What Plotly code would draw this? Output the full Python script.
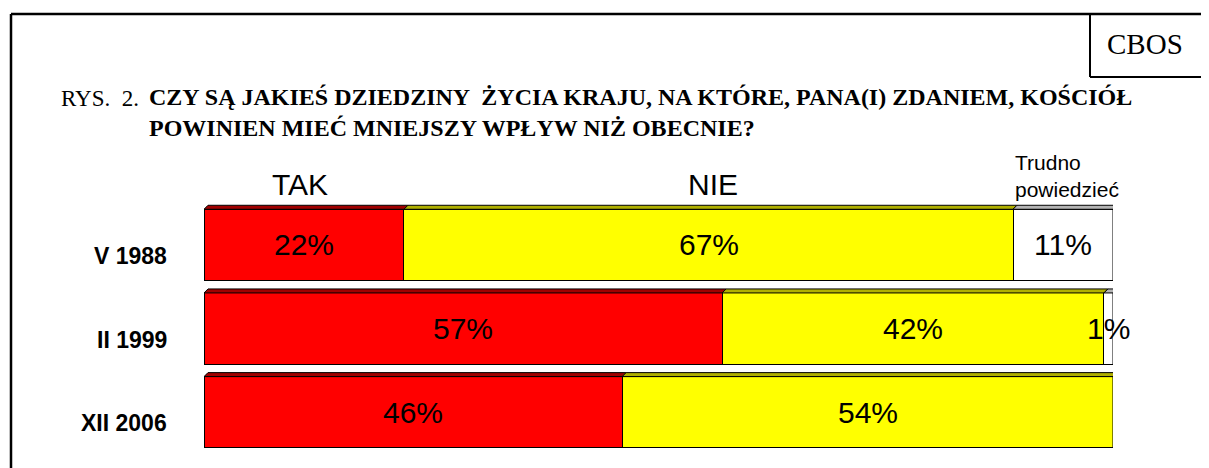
import plotly.graph_objects as go

# ---- data ----
periods = ["V 1988", "II 1999", "XII 2006"]
tak = [22, 57, 46]
nie = [67, 42, 54]
trudno = [11, 1, 0]
series_names = ["TAK", "NIE", "Trudno<br>powiedzieć"]
title_prefix = "RYS.\u00a0 2."
title_text = "CZY SĄ JAKIEŚ DZIEDZINY \u00a0ŻYCIA KRAJU, NA KTÓRE, PANA(I) ZDANIEM, KOŚCIÓŁ<br>POWINIEN MIEĆ MNIEJSZY WPŁYW NIŻ OBECNIE?"
source_label = "CBOS"

# ---- styles ----
OFF = 8                      # default page body margin
W, H = 1209 - OFF, 468 - OFF
ML, MR, MT, MB = 196, 96, 195, 14
PW, PH = W - ML - MR, H - MT - MB
fills = ["#FF0000", "#FFFF00", "#FFFFFF"]
tops = ["#A00000", "#B0B000", "#B4B4B4"]
name_shift = [-4, 4, 0]
BAR_W = 0.85
SANS = "Liberation Sans, Arial, sans-serif"
SERIF = "Liberation Serif, Times New Roman, serif"

def px(x):  # screen pixel -> paper
    return (x - OFF - ML) / PW

def py(y):
    return (H - MB - (y - OFF)) / PH

series = [tak, nie, trudno]
ypos = list(range(len(periods)))

fig = go.Figure()
for s, vals in enumerate(series):
    fig.add_trace(go.Bar(
        x=vals, y=ypos, orientation="h", width=BAR_W,
        marker=dict(color=fills[s], line=dict(color="black", width=1)),
        hoverinfo="skip", showlegend=False,
    ))

shapes = []
annotations = []
dx = 4 / PW * 100
dy = 4 / (PH / 3)
for i in ypos:
    cum = 0
    vals = [series[s][i] for s in range(3)]
    last = max(s for s in range(3) if vals[s] > 0)
    for s in range(3):
        v = vals[s]
        if v <= 0:
            continue
        x0, x1 = cum, cum + v
        yt = i - BAR_W / 2
        yb = i + BAR_W / 2
        shapes.append(dict(type="path", xref="x", yref="y",
                           path=f"M {x0},{yt} L {x0+dx},{yt-dy} L {x1+dx},{yt-dy} L {x1},{yt} Z",
                           fillcolor=tops[s], line=dict(color="black", width=1)))
        if s == last:
            shapes.append(dict(type="path", xref="x", yref="y",
                               path=f"M {x1},{yt} L {x1+dx},{yt-dy} L {x1+dx},{yb-dy} L {x1},{yb} Z",
                               fillcolor=tops[s], line=dict(color="black", width=1)))
        annotations.append(dict(x=(x0 + x1) / 2, y=i, xref="x", yref="y",
                                text=f"{v}%", showarrow=False,
                                font=dict(family=SANS, size=30, color="black")))
        cum = x1
    annotations.append(dict(x=0, y=i, xref="x", yref="y", xanchor="right",
                            xshift=-35, yshift=-11, text=f"<b>{periods[i]}</b>",
                            showarrow=False,
                            font=dict(family=SANS, size=23, color="black")))

# series name labels above first bar
cum = 0
for s in range(3):
    v = series[s][0]
    if s < 2:
        annotations.append(dict(x=cum + v / 2, y=-0.5, xref="x", yref="y",
                                yanchor="bottom", xshift=name_shift[s], text=series_names[s],
                                showarrow=False,
                                font=dict(family=SANS, size=30, color="black")))
    else:
        annotations.append(dict(x=cum, y=-0.5, xref="x", yref="y",
                                xanchor="left", yanchor="bottom", align="left",
                                text=series_names[s], showarrow=False,
                                font=dict(family=SANS, size=21, color="black")))
    cum += v

# title
annotations.append(dict(x=px(59), y=py(99), xref="paper", yref="paper",
                        xanchor="left", yanchor="middle", text=title_prefix,
                        showarrow=False, font=dict(family=SERIF, size=23, color="black")))
annotations.append(dict(x=px(147), y=py(112), xref="paper", yref="paper",
                        xanchor="left", yanchor="middle", align="left",
                        text=f"<b>{title_text}</b>", showarrow=False,
                        font=dict(family=SERIF, size=24, color="black")))
annotations.append(dict(x=px(1145), y=py(44), xref="paper", yref="paper",
                        xanchor="center", yanchor="middle", text=source_label,
                        showarrow=False, font=dict(family=SERIF, size=29, color="black")))

# frame and source box
frame = dict(color="black", width=2.5)
shapes += [
    dict(type="line", xref="paper", yref="paper", x0=px(11), y0=py(14), x1=px(1220), y1=py(14), line=frame),
    dict(type="line", xref="paper", yref="paper", x0=px(11), y0=py(14), x1=px(11), y1=py(480), line=frame),
    dict(type="line", xref="paper", yref="paper", x0=px(1090), y0=py(14), x1=px(1090), y1=py(77), line=dict(color="black", width=2)),
    dict(type="line", xref="paper", yref="paper", x0=px(1090), y0=py(77), x1=px(1220), y1=py(77), line=dict(color="black", width=2)),
]

fig.update_layout(
    barmode="stack",
    width=W, height=H,
    margin=dict(l=ML, r=MR, t=MT, b=MB, pad=0),
    paper_bgcolor="white", plot_bgcolor="white",
    xaxis=dict(range=[0, 100], visible=False, fixedrange=True),
    yaxis=dict(range=[2.5, -0.5], visible=False, fixedrange=True),
    shapes=shapes, annotations=annotations,
    showlegend=False,
)

fig.write_html("out.html")
